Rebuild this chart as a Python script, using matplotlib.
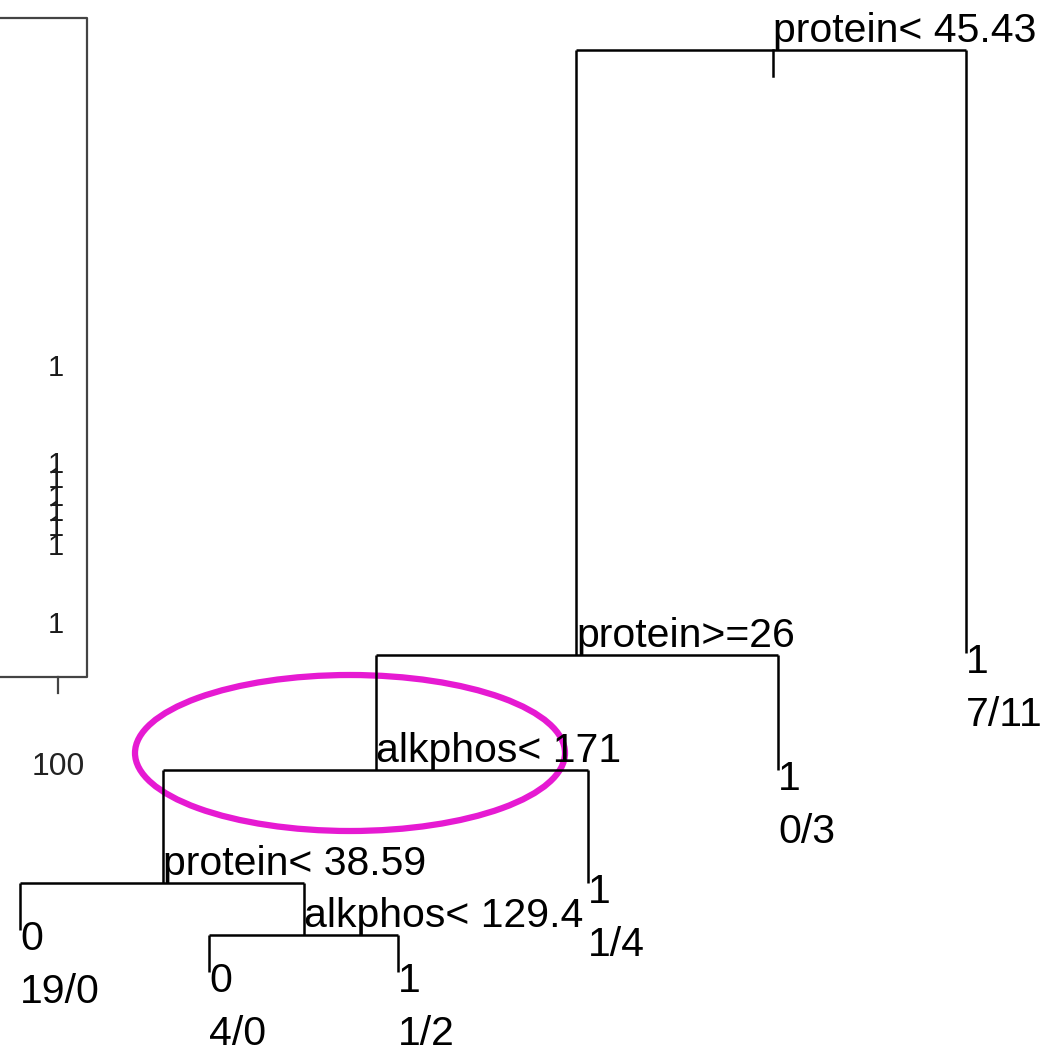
import matplotlib
matplotlib.use('Agg')
import matplotlib.pyplot as plt
from matplotlib.patches import Ellipse

# tree layout (pixel units of the screenshot), rpart style
node_ids = [1, 2, 3, 4, 5, 8, 9, 16, 17, 34, 35]
node_x = [773, 576, 966, 376, 778, 163, 588, 20, 304, 209, 398]
node_y = [50, 655, 653, 770, 770, 883, 883, 930, 935, 972, 972]
split_labels = {1: 'protein< 45.43', 2: 'protein>=26', 4: 'alkphos< 171',
                8: 'protein< 38.59', 17: 'alkphos< 129.4'}
leaf_class = {3: '1', 5: '1', 9: '1', 16: '0', 34: '0', 35: '1'}
leaf_counts = {3: '7/11', 5: '0/3', 9: '1/4', 16: '19/0', 34: '4/0', 35: '1/2'}

# partial left plot (previous panel), point labels
pts_y = [368, 465, 480, 498, 513, 528, 547, 625]
pts_lab = ['1'] * len(pts_y)
tick_lab = '100'

plt.rcParams['font.family'] = ['Liberation Sans', 'DejaVu Sans']

fig = plt.figure(figsize=(10.44, 10.51), dpi=100)
ax = fig.add_axes([0, 0, 1, 1])
ax.set_xlim(0, 1044)
ax.set_ylim(1051, 0)
ax.axis('off')

pos = {n: (x, y) for n, x, y in zip(node_ids, node_x, node_y)}
lw = 1.8
fs = 29.5

# root stem
rx, ry = pos[1]
ax.plot([rx, rx], [ry, ry + 26], color='black', lw=lw)

for n in split_labels:
    x, y = pos[n]
    l, r = pos[2 * n], pos[2 * n + 1]
    ax.plot([l[0], r[0]], [y, y], color='black', lw=lw, solid_capstyle='butt')
    for c in (l, r):
        ax.plot([c[0], c[0]], [y, c[1]], color='black', lw=lw, solid_capstyle='butt')
    ax.text(x, y - 8, split_labels[n], fontsize=fs, ha='left', va='baseline')

for n in leaf_class:
    x, y = pos[n]
    ax.text(x, y + 9, leaf_class[n], fontsize=fs, ha='left', va='center')
    ax.text(x, y + 62, leaf_counts[n], fontsize=fs, ha='left', va='center')

# left panel frame
frame = '#444444'
ax.plot([0, 87, 87, 0], [18, 18, 677, 677], color=frame, lw=1.6)
ax.plot([58, 58], [677, 693], color=frame, lw=1.6)
ax.text(58, 767, tick_lab, fontsize=23, ha='center', va='center', color='#222222')
for y, t in zip(pts_y, pts_lab):
    ax.text(56, y, t, fontsize=21, ha='center', va='center', color='#1a1a1a')

# highlight
ax.add_patch(Ellipse((350, 753), 430, 156, fill=False, edgecolor='#e61ad2', lw=4.5))

fig.savefig('out.png', dpi=100)
